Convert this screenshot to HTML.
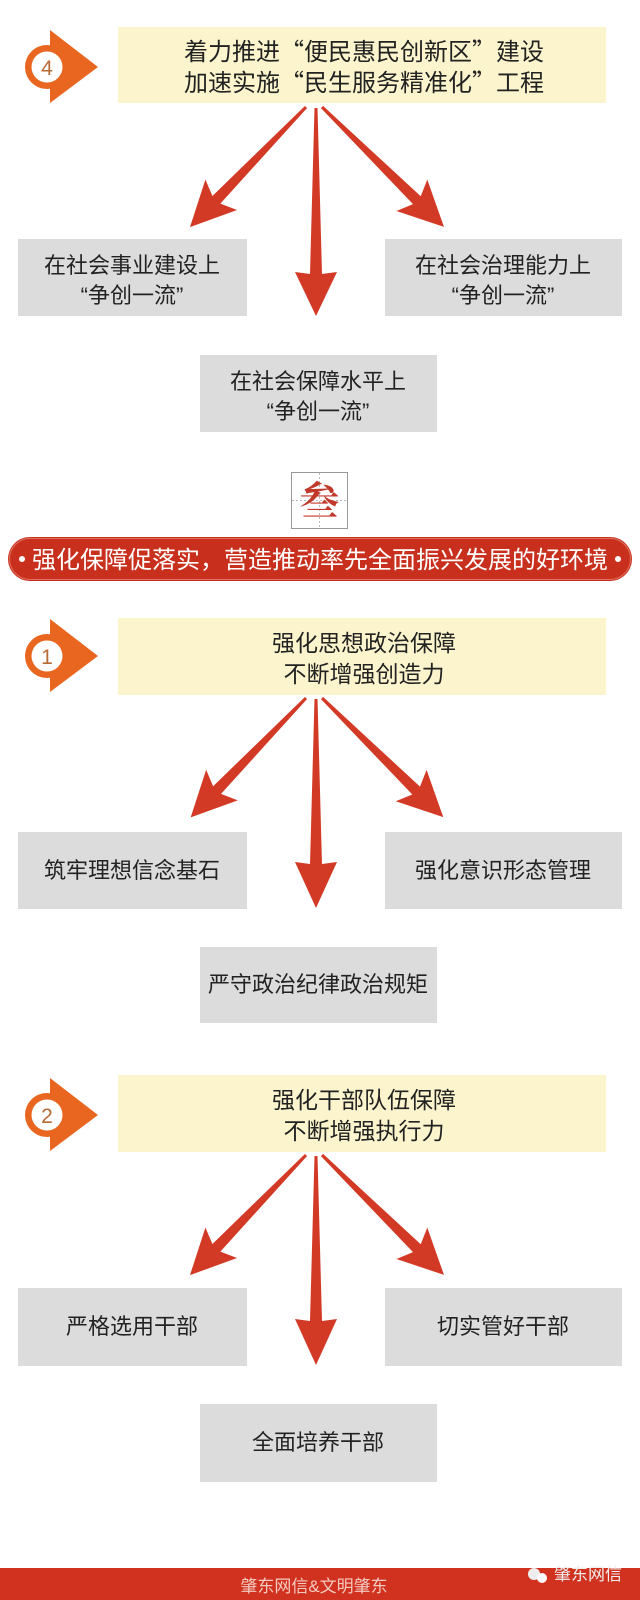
<!DOCTYPE html>
<html><head><meta charset="utf-8"><style>
html,body{margin:0;padding:0;background:#fff}
svg{display:block}
text{font-family:"Liberation Sans","Noto Sans CJK SC",sans-serif}
.q{font-family:"Noto Sans CJK SC",sans-serif}
</style></head><body>
<svg width="640" height="1600" viewBox="0 0 640 1600" xmlns="http://www.w3.org/2000/svg">
<defs>
<g id="icon">
<polygon points="50,-37 98,0 50,36" fill="#e8661f"/>
<circle cx="47" cy="0" r="22" fill="#e8661f"/>
<circle cx="47" cy="0" r="15.5" fill="#fff"/>
</g>
</defs>

<!-- Section 1 -->
<rect x="118" y="27" width="488" height="76" fill="#fcf4cd"/>
<g transform="translate(0,67)"><use href="#icon"/><text x="47" y="8" font-size="21" fill="#b86a35" text-anchor="middle">4</text></g>
<text x="364" y="60" font-size="24" fill="#222" text-anchor="middle">着力推进<tspan class="q">“</tspan>便民惠民创新区<tspan class="q">”</tspan>建设</text>
<text x="364" y="91" font-size="24" fill="#222" text-anchor="middle">加速实施<tspan class="q">“</tspan>民生服务精准化<tspan class="q">”</tspan>工程</text>
<g fill="#d23a26">
<path transform="translate(306,107) rotate(44)" d="M-1.5,0 L1.5,0 L5.5,129 L22,122 L0,167 L-22,122 L-5.5,129 Z"/>
<path transform="translate(316,108)" d="M-1.5,0 L1.5,0 L6,166 L21,164 L0,208 L-21,164 L-6,166 Z"/>
<path transform="translate(322,107) rotate(-45.5)" d="M-1.5,0 L1.5,0 L5.5,133 L22,126 L0,171 L-22,126 L-5.5,133 Z"/>
</g>
<rect x="18" y="239" width="229" height="77" fill="#dcdcdc"/>
<rect x="385" y="239" width="237" height="77" fill="#dcdcdc"/>
<rect x="200" y="355" width="237" height="77" fill="#dcdcdc"/>
<text x="132" y="273" font-size="22" fill="#222" text-anchor="middle">在社会事业建设上</text>
<text x="132" y="303" font-size="22" fill="#222" text-anchor="middle">“争创一流”</text>
<text x="503" y="273" font-size="22" fill="#222" text-anchor="middle">在社会治理能力上</text>
<text x="503" y="303" font-size="22" fill="#222" text-anchor="middle">“争创一流”</text>
<text x="318" y="389" font-size="22" fill="#222" text-anchor="middle">在社会保障水平上</text>
<text x="318" y="419" font-size="22" fill="#222" text-anchor="middle">“争创一流”</text>

<!-- Seal -->
<rect x="291.5" y="472.5" width="56" height="56" fill="#fff" stroke="#999" stroke-width="1"/>
<line x1="319.5" y1="473" x2="319.5" y2="528" stroke="#bbb" stroke-dasharray="2,2"/>
<line x1="292" y1="500.5" x2="347" y2="500.5" stroke="#bbb" stroke-dasharray="2,2"/>
<text x="319.5" y="515" font-size="40" font-weight="bold" fill="#c0392b" text-anchor="middle" style="font-family:'Noto Serif CJK SC',serif">叁</text>

<!-- Banner -->
<rect x="8" y="537" width="624" height="44" rx="22" fill="#c8301d"/>
<rect x="9.5" y="538.5" width="621" height="41" rx="20.5" fill="none" stroke="#e0705f" stroke-width="1"/>
<circle cx="22" cy="559" r="3" fill="#fff"/>
<circle cx="618" cy="559" r="3" fill="#fff"/>
<text x="320" y="568" font-size="24" fill="#fff" text-anchor="middle">强化保障促落实<tspan class="q">，</tspan>营造推动率先全面振兴发展的好环境</text>

<!-- Section 2 -->
<rect x="118" y="618" width="488" height="77" fill="#fcf4cd"/>
<g transform="translate(0,656)"><use href="#icon"/><text x="47" y="8" font-size="21" fill="#b86a35" text-anchor="middle">1</text></g>
<text x="364" y="651" font-size="23" fill="#222" text-anchor="middle">强化思想政治保障</text>
<text x="364" y="682" font-size="23" fill="#222" text-anchor="middle">不断增强创造力</text>
<g fill="#d23a26">
<path transform="translate(306,698) rotate(44)" d="M-1.5,0 L1.5,0 L5.5,128 L22,121 L0,166 L-22,121 L-5.5,128 Z"/>
<path transform="translate(316,699)" d="M-1.5,0 L1.5,0 L6,165 L21,163 L0,209 L-21,163 L-6,165 Z"/>
<path transform="translate(322,698) rotate(-45.5)" d="M-1.5,0 L1.5,0 L5.5,132 L22,125 L0,170 L-22,125 L-5.5,132 Z"/>
</g>
<rect x="18" y="832" width="229" height="77" fill="#dcdcdc"/>
<rect x="385" y="832" width="237" height="77" fill="#dcdcdc"/>
<rect x="200" y="947" width="237" height="76" fill="#dcdcdc"/>
<text x="132" y="878" font-size="22" fill="#222" text-anchor="middle">筑牢理想信念基石</text>
<text x="503" y="878" font-size="22" fill="#222" text-anchor="middle">强化意识形态管理</text>
<text x="318" y="992" font-size="22" fill="#222" text-anchor="middle">严守政治纪律政治规矩</text>

<!-- Section 3 -->
<rect x="118" y="1075" width="488" height="77" fill="#fcf4cd"/>
<g transform="translate(0,1115)"><use href="#icon"/><text x="47" y="8" font-size="21" fill="#b86a35" text-anchor="middle">2</text></g>
<text x="364" y="1108" font-size="23" fill="#222" text-anchor="middle">强化干部队伍保障</text>
<text x="364" y="1139" font-size="23" fill="#222" text-anchor="middle">不断增强执行力</text>
<g fill="#d23a26">
<path transform="translate(306,1155) rotate(44)" d="M-1.5,0 L1.5,0 L5.5,129 L22,122 L0,167 L-22,122 L-5.5,129 Z"/>
<path transform="translate(316,1156)" d="M-1.5,0 L1.5,0 L6,165 L21,163 L0,209 L-21,163 L-6,165 Z"/>
<path transform="translate(322,1155) rotate(-45.5)" d="M-1.5,0 L1.5,0 L5.5,133 L22,126 L0,171 L-22,126 L-5.5,133 Z"/>
</g>
<rect x="18" y="1288" width="229" height="78" fill="#dcdcdc"/>
<rect x="385" y="1288" width="237" height="78" fill="#dcdcdc"/>
<rect x="200" y="1404" width="237" height="78" fill="#dcdcdc"/>
<text x="132" y="1334" font-size="22" fill="#222" text-anchor="middle">严格选用干部</text>
<text x="503" y="1334" font-size="22" fill="#222" text-anchor="middle">切实管好干部</text>
<text x="318" y="1450" font-size="22" fill="#222" text-anchor="middle">全面培养干部</text>

<!-- Footer -->
<rect x="0" y="1568" width="640" height="32" fill="#d0321f"/>
<text x="314" y="1592" font-size="17" fill="#f3c9c0" text-anchor="middle">肇东网信&amp;文明肇东</text>
<circle cx="534" cy="1574" r="6" fill="#eee"/>
<circle cx="542" cy="1578" r="5" fill="#fff"/>
<text x="588" y="1580" font-size="17" fill="#eee" text-anchor="middle">肇东网信</text>
</svg>
</body></html>
